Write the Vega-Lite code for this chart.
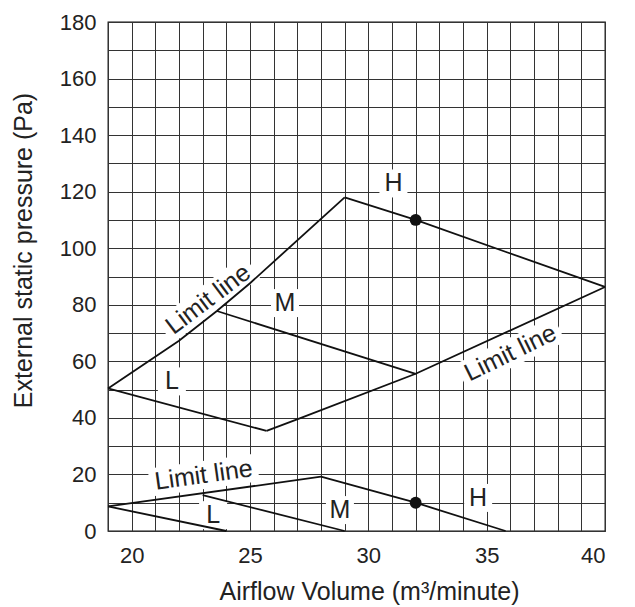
{
  "$schema": "https://vega.github.io/schema/vega-lite/v6.json",
  "autosize": {"type": "none"},
  "padding": {"left": 108, "top": 22, "right": 30, "bottom": 76},
  "width": 497,
  "height": 509,
  "background": "white",
  "config": {
    "font": "Liberation Sans",
    "view": {"stroke": "#111", "strokeWidth": 1.3},
    "axis": {
      "domain": false,
      "ticks": false,
      "grid": true,
      "gridColor": "#333",
      "gridWidth": 1,
      "gridOpacity": 1,
      "labelFont": "Liberation Sans",
      "labelFontSize": 22,
      "labelColor": "#222",
      "titleFont": "Liberation Sans",
      "titleFontSize": 25,
      "titleFontWeight": "normal",
      "titleColor": "#222"
    }
  },
  "datasets": {
    "curves": [
      {"seg": "limit-upper-left", "i": 0, "airflow": 19, "pressure": 50.4},
      {"seg": "limit-upper-left", "i": 1, "airflow": 22, "pressure": 67.3},
      {"seg": "limit-upper-left", "i": 2, "airflow": 23.6, "pressure": 77.8},
      {"seg": "limit-upper-left", "i": 3, "airflow": 25, "pressure": 87.6},
      {"seg": "limit-upper-left", "i": 4, "airflow": 29, "pressure": 118},
      {"seg": "H-upper", "i": 0, "airflow": 29, "pressure": 118},
      {"seg": "H-upper", "i": 1, "airflow": 32, "pressure": 110},
      {"seg": "H-upper", "i": 2, "airflow": 40, "pressure": 86.3},
      {"seg": "limit-upper-right", "i": 0, "airflow": 25.7, "pressure": 35.4},
      {"seg": "limit-upper-right", "i": 1, "airflow": 27.1, "pressure": 39.8},
      {"seg": "limit-upper-right", "i": 2, "airflow": 32, "pressure": 55.6},
      {"seg": "limit-upper-right", "i": 3, "airflow": 40, "pressure": 86.3},
      {"seg": "L-upper", "i": 0, "airflow": 19, "pressure": 50.4},
      {"seg": "L-upper", "i": 1, "airflow": 25.7, "pressure": 35.4},
      {"seg": "M-upper", "i": 0, "airflow": 23.6, "pressure": 77.8},
      {"seg": "M-upper", "i": 1, "airflow": 32, "pressure": 55.6},
      {"seg": "limit-lower", "i": 0, "airflow": 19, "pressure": 8.7},
      {"seg": "limit-lower", "i": 1, "airflow": 28, "pressure": 19.2},
      {"seg": "H-lower", "i": 0, "airflow": 28, "pressure": 19.2},
      {"seg": "H-lower", "i": 1, "airflow": 32, "pressure": 10},
      {"seg": "H-lower", "i": 2, "airflow": 35.8, "pressure": 0},
      {"seg": "M-lower", "i": 0, "airflow": 23, "pressure": 12.7},
      {"seg": "M-lower", "i": 1, "airflow": 29, "pressure": 0},
      {"seg": "L-lower", "i": 0, "airflow": 19, "pressure": 8.7},
      {"seg": "L-lower", "i": 1, "airflow": 24, "pressure": 0}
    ],
    "dots": [
      {"airflow": 32, "pressure": 110},
      {"airflow": 32, "pressure": 10}
    ],
    "labels": [
      {"where": "letter", "text": "H", "airflow": 31.06, "pressure": 122.9},
      {"where": "letter", "text": "M", "airflow": 26.48, "pressure": 80.6},
      {"where": "letter", "text": "L", "airflow": 21.7, "pressure": 52.9},
      {"where": "letter", "text": "L", "airflow": 23.44, "pressure": 5.6},
      {"where": "letter", "text": "M", "airflow": 28.8, "pressure": 7.4},
      {"where": "letter", "text": "H", "airflow": 34.64, "pressure": 11.7},
      {"where": "upper-left", "text": "Limit line", "airflow": 23.23, "pressure": 82},
      {"where": "upper-right", "text": "Limit line", "airflow": 36.0, "pressure": 63},
      {"where": "lower", "text": "Limit line", "airflow": 23.04, "pressure": 19.8}
    ]
  },
  "encoding": {
    "x": {
      "field": "airflow", "type": "quantitative",
      "scale": {"domain": [19, 40], "nice": false, "zero": false},
      "axis": {
        "values": [19,20,21,22,23,24,25,26,27,28,29,30,31,32,33,34,35,36,37,38,39,40],
        "labelExpr": "datum.value % 5 === 0 ? datum.label : ''",
        "labelPadding": 14,
        "title": "Airflow Volume (m³/minute)",
        "titlePadding": 13,
        "titleX": 261
      }
    },
    "y": {
      "field": "pressure", "type": "quantitative",
      "scale": {"domain": [0, 180], "nice": false},
      "axis": {
        "values": [0,10,20,30,40,50,60,70,80,90,100,110,120,130,140,150,160,170,180],
        "labelExpr": "datum.value % 20 === 0 ? datum.label : ''",
        "labelPadding": 12,
        "title": "External static pressure (Pa)",
        "titleX": -72,
        "titleY": 228
      }
    }
  },
  "layer": [
    {
      "data": {"name": "labels"},
      "transform": [{"filter": "datum.where === 'letter'"}],
      "mark": {"type": "point", "shape": "square", "filled": true, "color": "white", "opacity": 1, "size": 784, "strokeWidth": 0}
    },
    {
      "data": {"name": "labels"},
      "transform": [{"filter": "datum.where === 'upper-left'"}],
      "mark": {"type": "point", "shape": "M-3.9,-1H3.9V1H-3.9Z", "filled": true, "color": "white", "opacity": 1, "size": 784, "strokeWidth": 0, "angle": -37}
    },
    {
      "data": {"name": "labels"},
      "transform": [{"filter": "datum.where === 'upper-right'"}],
      "mark": {"type": "point", "shape": "M-3.9,-1H3.9V1H-3.9Z", "filled": true, "color": "white", "opacity": 1, "size": 784, "strokeWidth": 0, "angle": -26}
    },
    {
      "data": {"name": "labels"},
      "transform": [{"filter": "datum.where === 'lower'"}],
      "mark": {"type": "point", "shape": "M-3.9,-1H3.9V1H-3.9Z", "filled": true, "color": "white", "opacity": 1, "size": 784, "strokeWidth": 0, "angle": -8}
    },
    {
      "data": {"name": "curves"},
      "mark": {"type": "line", "color": "#111", "strokeWidth": 1.8},
      "encoding": {
        "detail": {"field": "seg", "type": "nominal"},
        "order": {"field": "i", "type": "quantitative"}
      }
    },
    {
      "data": {"name": "dots"},
      "mark": {"type": "point", "shape": "circle", "filled": true, "color": "#111", "opacity": 1, "size": 140}
    },
    {
      "data": {"name": "labels"},
      "transform": [{"filter": "datum.where === 'letter'"}],
      "mark": {"type": "text", "fontSize": 25, "color": "#222", "baseline": "middle", "align": "center"},
      "encoding": {"text": {"field": "text"}}
    },
    {
      "data": {"name": "labels"},
      "transform": [{"filter": "datum.where === 'upper-left'"}],
      "mark": {"type": "text", "fontSize": 25, "color": "#222", "baseline": "middle", "align": "center", "angle": -37},
      "encoding": {"text": {"field": "text"}}
    },
    {
      "data": {"name": "labels"},
      "transform": [{"filter": "datum.where === 'upper-right'"}],
      "mark": {"type": "text", "fontSize": 25, "color": "#222", "baseline": "middle", "align": "center", "angle": -26},
      "encoding": {"text": {"field": "text"}}
    },
    {
      "data": {"name": "labels"},
      "transform": [{"filter": "datum.where === 'lower'"}],
      "mark": {"type": "text", "fontSize": 25, "color": "#222", "baseline": "middle", "align": "center", "angle": -8},
      "encoding": {"text": {"field": "text"}}
    }
  ]
}
